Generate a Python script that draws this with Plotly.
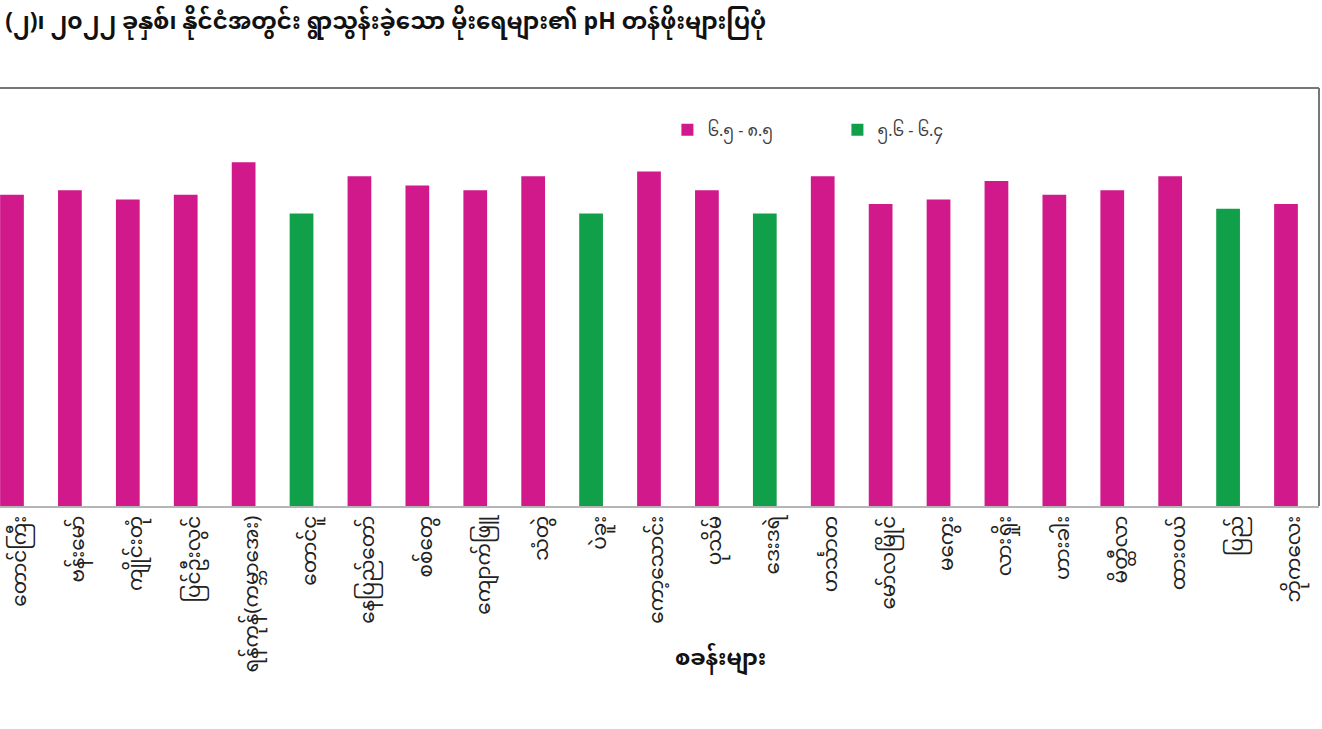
import plotly.graph_objects as go

# ---- data ----
stations = [
    "တောင်ကြီး", "ဗန်းမော်", "ကျိုင်းတုံ", "ပြင်ဦးလွင်", "ရန်ကုန်(ကမ္ဘာအေး)",
    "တောင်ငူ", "နေပြည်တော်", "စစ်တွေ", "ကျောက်ဖြူ", "သံတွဲ",
    "ပဲခူး", "ကော့သောင်း", "ပုသိမ်", "ဒေးဒရဲ", "ဟင်္သာတ",
    "မော်လမြိုင်", "မကွေး", "လားရှိုး", "ဟားခါး", "မိတ္ထီလာ",
    "ထားဝယ်", "ပြည်", "ဘိုကလေး",
]
ph_values = [6.7, 6.8, 6.6, 6.7, 7.4,
             6.3, 7.1, 6.9, 6.8, 7.1,
             6.3, 7.2, 6.8, 6.3, 7.1,
             6.5, 6.6, 7.0, 6.7, 6.8,
             7.1, 6.4, 6.5]
series_names = ["၆.၅ - ၈.၅", "၅.၆ - ၆.၄"]
title_text = "(၂)၊ ၂၀၂၂ ခုနှစ်၊ နိုင်ငံအတွင်း ရွာသွန်းခဲ့သော မိုးရေများ၏ pH တန်ဖိုးများပြပုံ"
x_title = "စခန်းများ"

MAGENTA = "#D2198C"
GREEN = "#11A04A"
FONT = "Noto Sans Myanmar, Padauk, Myanmar Text, Pyidaungsu, Noto Sans, DejaVu Sans, sans-serif"

high = [v if v >= 6.45 else None for v in ph_values]
low = [v if v < 6.45 else None for v in ph_values]

fig = go.Figure()
fig.add_trace(go.Bar(x=stations, y=high, name=series_names[0],
                     marker=dict(color=MAGENTA, line=dict(width=0)), width=0.41))
fig.add_trace(go.Bar(x=stations, y=low, name=series_names[1],
                     marker=dict(color=GREEN, line=dict(width=0)), width=0.41))

fig.update_layout(
    width=1322, height=729,
    barmode="overlay",
    paper_bgcolor="white", plot_bgcolor="white",
    margin=dict(l=0, r=3, t=88, b=223, autoexpand=False),
    font=dict(family=FONT, color="#222222"),
    title=dict(text="<b>" + title_text + "</b>", x=0.004, xref="container", xanchor="left",
               y=0.971, yref="container", yanchor="middle",
               font=dict(size=23, color="#111111", family=FONT)),
    legend=dict(orientation="h", x=0.506, xanchor="left", y=0.90, yanchor="middle",
                font=dict(size=16, color="#404040", family=FONT),
                entrywidth=125, entrywidthmode="pixels",
                bgcolor="rgba(0,0,0,0)", itemclick=False),
    showlegend=True,
)
fig.update_xaxes(
    type="category", range=[-0.207, 22.57], automargin=False,
    tickangle=-90, tickfont=dict(size=20, color="#222222", family=FONT),
    ticklabelshift=8,
    showline=True, linecolor="#b5b5b5", linewidth=1.5,
    showgrid=False, ticks="", zeroline=False,
)
fig.update_yaxes(range=[0, 9], visible=False, showgrid=False, zeroline=False, automargin=False)

# plot-area frame (top and right edges)
fig.add_shape(type="line", xref="paper", yref="paper", x0=0, x1=1, y0=1, y1=1,
              line=dict(color="#777777", width=2))
fig.add_shape(type="line", xref="paper", yref="paper", x0=1, x1=1, y0=0, y1=1,
              line=dict(color="#777777", width=2))

fig.add_annotation(text="<b>" + x_title + "</b>", xref="paper", yref="paper",
                   x=0.546, y=-0.368, xanchor="center", yanchor="middle", showarrow=False,
                   font=dict(size=22, color="#111111", family=FONT))

fig.write_html("out.html", config={"displayModeBar": False},
               post_script="document.body.style.margin='0px';")
